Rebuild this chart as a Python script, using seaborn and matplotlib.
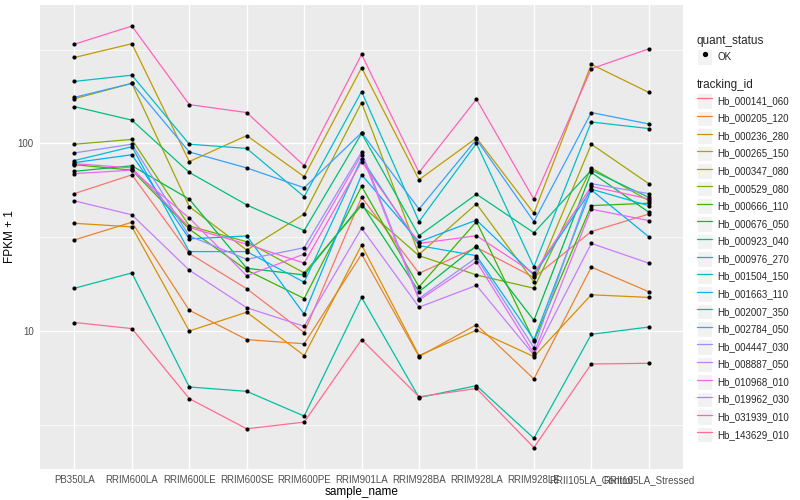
import numpy as np
import pandas as pd
import matplotlib
matplotlib.use("Agg")
import matplotlib.pyplot as plt
import seaborn as sns
from matplotlib.lines import Line2D
from matplotlib.patches import Rectangle
from matplotlib.legend_handler import HandlerLine2D
from matplotlib.ticker import FixedLocator, NullFormatter

# ---------------- data ----------------
samples = ["PB350LA", "RRIM600LA", "RRIM600LE", "RRIM600SE", "RRIM600PE",
           "RRIM901LA", "RRIM928BA", "RRIM928LA", "RRIM928LE",
           "RRII105LA_Control", "RRII105LA_Stressed"]

tracking_ids = ["Hb_000141_060", "Hb_000205_120", "Hb_000236_280", "Hb_000265_150",
                "Hb_000347_080", "Hb_000529_080", "Hb_000666_110", "Hb_000676_050",
                "Hb_000923_040", "Hb_000976_270", "Hb_001504_150", "Hb_001663_110",
                "Hb_002007_350", "Hb_002784_050", "Hb_004447_030", "Hb_008887_050",
                "Hb_010968_010", "Hb_019962_030", "Hb_031939_010", "Hb_143629_010"]

Hb_000141_060 = [54, 68, 25.9, 16.8, 9.8, 51.6, 20.3, 27.9, 19.3, 33.9, 42]
Hb_000205_120 = [30.6, 38, 12.9, 9.0, 8.55, 25.7, 7.3, 10.8, 5.55, 21.9, 16.2]
Hb_000236_280 = [37.5, 35.9, 10.0, 12.6, 7.4, 28.7, 7.4, 10.1, 7.3, 15.6, 15.1]
Hb_000265_150 = [287, 340, 80, 110, 66.5, 253, 64, 107, 42.4, 264, 187]
Hb_000347_080 = [173, 209, 46, 27, 42, 165, 25.6, 47.6, 18.3, 99, 61]
Hb_000529_080 = [99, 105, 36.3, 29.9, 20.4, 46.6, 25.2, 19.9, 16.9, 74, 49.5]
Hb_000666_110 = [77, 72, 34.9, 21.1, 14.9, 59, 17.2, 38.3, 8.85, 46.6, 48]
Hb_000676_050 = [71, 76, 50.4, 21.6, 19.9, 47.6, 16.2, 28.5, 11.4, 70, 43]
Hb_000923_040 = [157, 133, 70, 47, 34.3, 113, 32.2, 53.6, 33.4, 72, 51.6]
Hb_000976_270 = [16.9, 20.4, 5.03, 4.77, 3.52, 15.1, 4.42, 5.11, 2.68, 9.6, 10.5]
Hb_001504_150 = [214, 231, 99, 94, 52, 189, 38.3, 100, 22, 130, 120]
Hb_001663_110 = [81, 96, 26.5, 26.5, 18.2, 83, 28.5, 25.2, 9.0, 57, 46.6]
Hb_002007_350 = [79, 87, 31, 32.1, 12.3, 68, 29.9, 39, 19.9, 56.5, 31.8]
Hb_002784_050 = [176, 209, 90, 74, 58, 114, 44.7, 105, 38.3, 146, 127]
Hb_004447_030 = [89, 99, 32.1, 24.1, 27.8, 90, 14.9, 24.6, 8.15, 61, 54]
Hb_008887_050 = [49.4, 41.6, 21.1, 13.3, 10.6, 35.3, 13.4, 17.5, 7.45, 29.3, 23]
Hb_010968_010 = [69, 72, 40, 19.7, 25.7, 87, 14.6, 23.4, 7.6, 44.6, 38.8]
Hb_019962_030 = [78, 74, 35.6, 29, 23, 80, 29.3, 32.2, 20.3, 59, 50.6]
Hb_031939_010 = [338, 422, 161, 146, 76, 298, 70, 172, 50.4, 250, 319]
Hb_143629_010 = [11.1, 10.3, 4.36, 3.01, 3.27, 9.0, 4.46, 4.94, 2.39, 6.67, 6.73]

series_values = [Hb_000141_060, Hb_000205_120, Hb_000236_280, Hb_000265_150,
                 Hb_000347_080, Hb_000529_080, Hb_000666_110, Hb_000676_050,
                 Hb_000923_040, Hb_000976_270, Hb_001504_150, Hb_001663_110,
                 Hb_002007_350, Hb_002784_050, Hb_004447_030, Hb_008887_050,
                 Hb_010968_010, Hb_019962_030, Hb_031939_010, Hb_143629_010]

quant_status = "OK"
y_major = [10, 100]

# ---------------- style ----------------
palette = ["#F8766D", "#EA8331", "#D89000", "#C09B00", "#A3A500", "#7CAE00",
           "#39B600", "#00BB4E", "#00BF7D", "#00C1A3", "#00BFC4", "#00BAE0",
           "#00B0F6", "#35A2FF", "#9590FF", "#C77CFF", "#E76BF3", "#FA62DB",
           "#FF62BC", "#FF6C91"]

sns.set_theme(style="darkgrid", rc={"axes.facecolor": "#EBEBEB",
                                    "grid.color": "white",
                                    "figure.facecolor": "white"})
plt.rcParams["font.family"] = ["Liberation Sans", "DejaVu Sans"]

rows = []
for tid, vals in zip(tracking_ids, series_values):
    for i, (s, v) in enumerate(zip(samples, vals)):
        rows.append({"tracking_id": tid, "sample_name": s, "pos": i,
                     "fpkm": v, "quant_status": quant_status})
df = pd.DataFrame(rows)

fig = plt.figure(figsize=(8, 5), dpi=100)
ax = fig.add_axes([0.05, 0.0626, 0.804, 0.9274])

sns.lineplot(data=df, x="pos", y="fpkm", hue="tracking_id", hue_order=tracking_ids,
             palette=palette, estimator=None, sort=False, linewidth=0.9,
             legend=False, ax=ax, zorder=2)
sns.scatterplot(data=df, x="pos", y="fpkm", color="black", s=9, linewidth=0,
                legend=False, ax=ax, zorder=3)

ax.set_yscale("log")
lo = np.log10(df["fpkm"].min())
hi = np.log10(df["fpkm"].max())
pad = 0.05 * (hi - lo)
ax.set_ylim(10 ** (lo - pad), 10 ** (hi + pad))
ax.set_xlim(-0.6, len(samples) - 1 + 0.6)

ax.yaxis.set_major_locator(FixedLocator(y_major))
ax.set_yticklabels([str(v) for v in y_major])
ax.yaxis.set_minor_locator(FixedLocator([10 ** 0.5, 10 ** 1.5, 10 ** 2.5]))
ax.yaxis.set_minor_formatter(NullFormatter())
ax.set_xticks(range(len(samples)))
ax.set_xticklabels(samples)

ax.grid(which="major", color="white", linewidth=1.0)
ax.grid(which="minor", axis="y", color="white", linewidth=0.5)
ax.grid(which="minor", axis="x", visible=False)
for sp in ax.spines.values():
    sp.set_visible(False)
ax.tick_params(which="major", length=2.5, width=0.6, color="#333333",
               labelsize=7, labelcolor="#4D4D4D", pad=2)
ax.tick_params(which="minor", length=0)

ax.set_xlabel("sample_name", fontsize=8.5, color="black", labelpad=1)
ax.set_ylabel("FPKM + 1", fontsize=8.5, color="black", labelpad=1)


class KeyHandler(HandlerLine2D):
    def create_artists(self, legend, orig_handle, xdescent, ydescent,
                       width, height, fontsize, trans):
        rect = Rectangle((-xdescent, -ydescent), width, height,
                         facecolor="#F2F2F2", edgecolor="white", linewidth=0.8,
                         transform=trans)
        arts = super().create_artists(legend, orig_handle, xdescent, ydescent,
                                      width, height, fontsize, trans)
        return [rect] + list(arts)


common = dict(loc="upper left", bbox_transform=fig.transFigure, frameon=False,
              fontsize=7, title_fontsize=8.5, handlelength=1.6, handleheight=2.08,
              labelspacing=0.21, handletextpad=0.5, borderpad=0, borderaxespad=0,
              alignment="left", handler_map={Line2D: KeyHandler()})

ok_handle = Line2D([], [], marker="o", color="black", linestyle="none", markersize=2.8)
leg1 = ax.legend(handles=[ok_handle], labels=[quant_status], title="quant_status",
                 bbox_to_anchor=(0.871, 0.93), **common)
ax.add_artist(leg1)

line_handles = [Line2D([], [], color=c, linewidth=0.9) for c in palette]
leg2 = ax.legend(handles=line_handles, labels=tracking_ids, title="tracking_id",
                 bbox_to_anchor=(0.871, 0.842), **common)

fig.savefig("out.png", dpi=100)
